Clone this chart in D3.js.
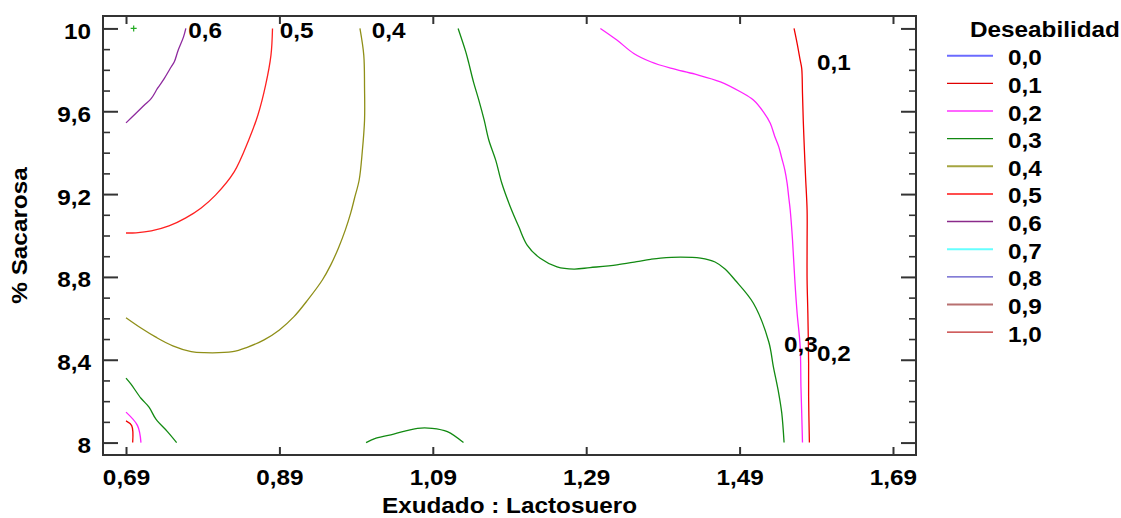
<!DOCTYPE html>
<html>
<head>
<meta charset="utf-8">
<script src="https://cdn.jsdelivr.net/npm/d3@7"></script>
<style>
  body { margin: 0; background: #fff; }
  svg { display: block; }
  text { font-family: "Liberation Sans", Arial, sans-serif; font-weight: bold; fill: #000; }
</style>
</head>
<body>
<svg id="chart" width="1121" height="518"></svg>
<script>
// Axis ticks
const xTicks = [0.69, 0.89, 1.09, 1.29, 1.49, 1.69];
const yTicks = [8, 8.4, 8.8, 9.2, 9.6, 10];
const yMinorTicks = [8.1, 8.2, 8.3, 8.5, 8.6, 8.7, 8.9, 9.0, 9.1, 9.3, 9.4, 9.5, 9.7, 9.8, 9.9];

// Legend levels
const levels = ["0,0", "0,1", "0,2", "0,3", "0,4", "0,5", "0,6", "0,7", "0,8", "0,9", "1,0"];
const levelColors = ["#6b6bff", "#e00000", "#ff66ff", "#118811", "#a5a540", "#ff4d4d", "#8a2a8a", "#66ffff", "#5a50c8", "#b87070", "#c02828"];
const levelWidths = [2, 1.2, 2, 1.3, 2, 2, 1.5, 2, 1.3, 2, 1.3];

// Contour lines of desirability, as [Exudado:Lactosuero, % Sacarosa]
const contour06 = [[0.768,10.0],[0.765,9.959],[0.758,9.895],[0.753,9.839],[0.749,9.815],[0.740,9.759],[0.731,9.710],[0.723,9.662],[0.714,9.630],[0.703,9.590],[0.690,9.544]];
const contour05 = [[0.881,10.0],[0.879,9.871],[0.872,9.726],[0.862,9.582],[0.850,9.461],[0.831,9.307],[0.807,9.196],[0.788,9.133],[0.768,9.085],[0.746,9.046],[0.723,9.022],[0.703,9.013],[0.690,9.012]];
const contour04 = [[0.995,10.0],[1.000,9.871],[1.001,9.712],[1.001,9.557],[0.998,9.403],[0.994,9.268],[0.988,9.181],[0.983,9.109],[0.976,9.027],[0.967,8.940],[0.957,8.858],[0.946,8.785],[0.927,8.689],[0.909,8.608],[0.890,8.544],[0.870,8.496],[0.848,8.460],[0.829,8.439],[0.792,8.434],[0.775,8.439],[0.751,8.467],[0.729,8.509],[0.710,8.552],[0.690,8.603]];
const contour03a = [[1.123,10.0],[1.133,9.887],[1.137,9.831],[1.143,9.742],[1.150,9.654],[1.157,9.557],[1.163,9.461],[1.172,9.364],[1.180,9.252],[1.191,9.139],[1.202,9.043],[1.213,8.954],[1.230,8.890],[1.252,8.849],[1.274,8.838],[1.295,8.845],[1.330,8.858],[1.356,8.874],[1.374,8.885],[1.387,8.891],[1.413,8.896],[1.439,8.891],[1.458,8.872],[1.471,8.838],[1.484,8.785],[1.508,8.673],[1.528,8.487],[1.534,8.367],[1.541,8.238],[1.545,8.142],[1.548,8.0]];
const contour03b = [[1.003,8.0],[1.016,8.021],[1.039,8.041],[1.070,8.069],[1.089,8.069],[1.109,8.053],[1.130,8.0]];
const contour03c = [[0.690,8.311],[0.6965,8.282],[0.7095,8.214],[0.720,8.171],[0.729,8.113],[0.744,8.053],[0.756,8.0]];
const contour02a = [[1.3085,10.0],[1.330,9.944],[1.352,9.879],[1.374,9.839],[1.400,9.808],[1.432,9.779],[1.465,9.742],[1.491,9.694],[1.508,9.654],[1.521,9.597],[1.530,9.542],[1.536,9.477],[1.541,9.429],[1.545,9.373],[1.549,9.316],[1.552,9.252],[1.554,9.187],[1.556,9.123],[1.559,8.978],[1.562,8.785],[1.565,8.625],[1.569,8.463],[1.570,8.270],[1.571,8.142],[1.572,8.0]];
const contour02b = [[0.690,8.147],[0.705,8.082],[0.7095,8.0]];
const contour01a = [[1.561,10.0],[1.565,9.928],[1.569,9.847],[1.571,9.807],[1.572,9.686],[1.573,9.557],[1.5745,9.413],[1.576,9.284],[1.578,9.123],[1.578,8.954],[1.578,8.785],[1.579,8.625],[1.580,8.383],[1.580,8.222],[1.581,8.0]];
const contour01b = [[0.690,8.105],[0.6974,8.082],[0.6987,8.0]];

const contours = [
  { level: 6, pts: contour06 },
  { level: 5, pts: contour05 },
  { level: 4, pts: contour04 },
  { level: 3, pts: contour03a },
  { level: 3, pts: contour03b },
  { level: 3, pts: contour03c },
  { level: 2, pts: contour02a },
  { level: 2, pts: contour02b },
  { level: 1, pts: contour01a },
  { level: 1, pts: contour01b }
];
const contourColors = { 1: "#f00000", 2: "#ff22ff", 3: "#128a12", 4: "#8f8f18", 5: "#ff2020", 6: "#8e2a9e" };

// In-plot contour labels (start x, baseline y)
const contourLabels = [
  { text: "0,6", x: 0.771, y: 9.953 },
  { text: "0,5", x: 0.8905, y: 9.953 },
  { text: "0,4", x: 1.0103, y: 9.953 },
  { text: "0,1", x: 1.591, y: 9.799 },
  { text: "0,3", x: 1.548, y: 8.438 },
  { text: "0,2", x: 1.591, y: 8.394 }
];

// Optimum marker
const markerPoints = [[0.70, 10.0]];

const FONT_SIZE = 22.5;
const STRETCH = 1.08;
const place = (px, py) => `translate(${px},${py}) scale(${STRETCH},1)`;

const svg = d3.select("#chart");
svg.append("rect").attr("width", 1121).attr("height", 518).attr("fill", "#fff");

const plot = { left: 103, right: 916, top: 16, bottom: 455 };
const x = d3.scaleLinear().domain([0.66, 1.72]).range([plot.left, plot.right]);
const y = d3.scaleLinear().domain([7.94, 10.06]).range([plot.bottom, plot.top]);

const fmtX = d => d.toFixed(2).replace(".", ",");
const fmtY = d => String(d).replace(".", ",");
const axisColor = "#333";

// Contours
const line = d3.line().x(d => x(d[0])).y(d => y(d[1])).curve(d3.curveCatmullRom.alpha(0.5));
svg.append("g").selectAll("path").data(contours).join("path")
  .attr("d", d => line(d.pts))
  .attr("fill", "none")
  .attr("stroke", d => contourColors[d.level])
  .attr("stroke-width", 1.3);

// Marker
svg.append("g").selectAll("path").data(markerPoints).join("path")
  .attr("transform", d => `translate(${x(d[0])},${y(d[1])})`)
  .attr("d", "M-3,0H3M0,-3V3")
  .attr("stroke", "#22aa22").attr("stroke-width", 1.2);

// Contour labels
svg.append("g").selectAll("text").data(contourLabels).join("text")
  .attr("transform", d => place(x(d.x), y(d.y)))
  .attr("font-size", FONT_SIZE)
  .text(d => d.text);

function styleAxis(g) {
  g.select(".domain").remove();
  g.selectAll(".tick line").attr("stroke", axisColor).attr("stroke-width", 2);
}

// Bottom axis
const gx = svg.append("g").attr("transform", `translate(0,${plot.bottom})`)
  .call(d3.axisBottom(x).tickValues(xTicks).tickSize(-8).tickFormat(fmtX));
styleAxis(gx);
gx.selectAll(".tick text").attr("y", null).attr("dy", null)
  .attr("transform", place(0, 30))
  .attr("font-size", FONT_SIZE).attr("font-family", null).attr("fill", "#000");

// Top axis
const gxt = svg.append("g").attr("transform", `translate(0,${plot.top})`)
  .call(d3.axisTop(x).tickValues(xTicks).tickSize(-8).tickFormat(""));
styleAxis(gxt);

// Left axis
const gy = svg.append("g").attr("transform", `translate(${plot.left},0)`)
  .call(d3.axisLeft(y).tickValues(yTicks).tickSize(-15).tickFormat(fmtY));
styleAxis(gy);
gy.selectAll(".tick text").attr("x", null).attr("dy", null)
  .attr("transform", place(-12, 10))
  .attr("font-size", FONT_SIZE).attr("font-family", null).attr("fill", "#000");
const gym = svg.append("g").attr("transform", `translate(${plot.left},0)`)
  .call(d3.axisLeft(y).tickValues(yMinorTicks).tickSize(-7).tickFormat(""));
styleAxis(gym);
gym.selectAll(".tick line").attr("stroke-width", 1.6);

// Right axis
const gyr = svg.append("g").attr("transform", `translate(${plot.right},0)`)
  .call(d3.axisRight(y).tickValues(yTicks).tickSize(-15).tickFormat(""));
styleAxis(gyr);
const gyrm = svg.append("g").attr("transform", `translate(${plot.right},0)`)
  .call(d3.axisRight(y).tickValues(yMinorTicks).tickSize(-7).tickFormat(""));
styleAxis(gyrm);
gyrm.selectAll(".tick line").attr("stroke-width", 1.6);

// Frame
svg.append("rect")
  .attr("x", plot.left).attr("y", plot.top)
  .attr("width", plot.right - plot.left).attr("height", plot.bottom - plot.top)
  .attr("fill", "none").attr("stroke", axisColor).attr("stroke-width", 2);

// Axis titles
svg.append("text")
  .attr("transform", place((plot.left + plot.right) / 2, 513))
  .attr("text-anchor", "middle").attr("font-size", FONT_SIZE)
  .text("Exudado : Lactosuero");
svg.append("text")
  .attr("transform", `translate(27,${(plot.top + plot.bottom) / 2}) rotate(-90) scale(${STRETCH},1)`)
  .attr("text-anchor", "middle").attr("font-size", FONT_SIZE)
  .text("% Sacarosa");

// Legend
const legend = svg.append("g");
legend.append("text").attr("transform", place(970, 37)).attr("font-size", FONT_SIZE).text("Deseabilidad");
const rowY = i => 55.7 + i * 27.65;
const rows = legend.selectAll("g.row").data(levels).join("g").attr("class", "row");
rows.append("line")
  .attr("x1", 947).attr("x2", 993)
  .attr("y1", (d, i) => rowY(i)).attr("y2", (d, i) => rowY(i))
  .attr("stroke", (d, i) => levelColors[i])
  .attr("stroke-width", (d, i) => levelWidths[i]);
rows.append("text")
  .attr("transform", (d, i) => place(1008, rowY(i) + 9.5))
  .attr("font-size", FONT_SIZE)
  .text(d => d);
</script>
</body>
</html>
